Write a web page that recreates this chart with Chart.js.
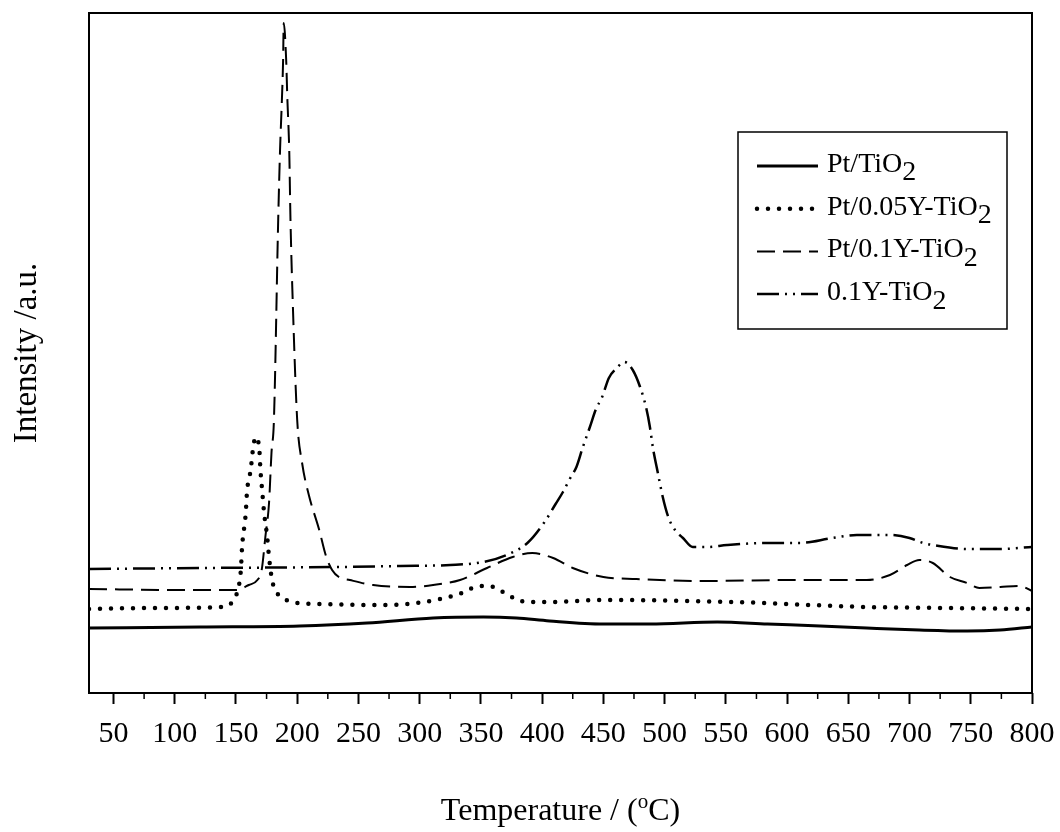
<!DOCTYPE html>
<html>
<head>
<meta charset="utf-8">
<script src="https://cdn.jsdelivr.net/npm/chart.js@4/dist/chart.umd.min.js"></script>
<style>
  html, body { margin: 0; padding: 0; background: #fff; }
  canvas { display: block; }
</style>
</head>
<body>
<canvas id="tpr" width="1060" height="832"></canvas>
<script>
// Series names (the final "2" of each TiO2 is drawn as a subscript)
const seriesLabels = ['Pt/TiO2', 'Pt/0.05Y-TiO2', 'Pt/0.1Y-TiO2', '0.1Y-TiO2'];

// Pt/TiO2
const tempPtTi = [30, 121, 202, 257, 311, 352, 379, 406, 450, 488, 543, 584, 627, 665, 708, 747, 774, 800];
const intPtTi  = [65, 66, 67, 70, 75, 76, 75, 72, 69, 69, 71, 69, 67, 65, 63, 62, 63, 66];

// Pt/0.05Y-TiO2
const tempPt005Y = [30, 80, 139, 147, 151, 154, 155, 158, 159, 162, 164, 166, 169, 170, 171.5, 173, 175.5, 177, 179.5, 183,
                    191, 200, 218, 270, 298, 316.5, 334.5, 343, 351.5, 360.5, 369.5, 378.5, 387.5, 405, 450, 556, 665, 733, 800];
const intPt005Y  = [84, 85, 86, 91, 101, 123, 146, 180, 201, 223, 245, 256, 245, 223, 201, 180, 156, 136, 113, 101,
                    93, 90, 89, 88, 90, 94, 100, 105, 107, 106, 100, 94, 91, 91, 93, 91, 86, 85, 84];

// Pt/0.1Y-TiO2
const tempPt01Y = [30, 104, 150, 160.5, 167.5, 171, 174, 177, 179, 181, 184.5, 186, 187.5, 188.5, 189, 191, 192, 193.5, 194.5, 196.5,
                   200, 204, 209.5, 218, 223.5, 228.5, 234, 243, 262, 292, 311, 333, 355, 376, 392, 409, 425, 450, 477, 529,
                   610, 665, 684, 698, 708, 719, 733, 747, 757, 774, 790, 800];
const intPt01Y  = [104, 103, 103, 108, 113, 123, 156, 190, 240, 273, 474, 543, 593, 633, 670, 633, 593, 543, 474, 386,
                   273, 230, 198, 163, 137, 123, 116, 113, 108, 106, 108, 113, 125, 136, 140, 135, 125, 116, 114, 112,
                   113, 113, 118, 128, 133, 130, 116, 110, 105, 106, 107, 102];

// 0.1Y-TiO2
const temp01Y = [30, 121, 234, 284, 325, 352, 371, 388, 402, 411, 417, 423, 428, 433, 439, 444, 449, 454.5, 461, 467,
                 474, 480, 485, 488, 490.5, 494.5, 498.5, 503, 508.5, 515, 523, 534.5, 551, 583.5, 610, 637, 657, 684, 700, 711,
                 719, 747, 774, 800];
const int01Y  = [124, 125, 126, 127, 128, 131, 138, 150, 171, 189, 201, 215, 226, 245, 266, 284, 296, 315, 325, 331,
                 323, 306, 285, 266, 245, 220, 196, 176, 163, 155, 146, 146, 148, 150, 150, 155, 158, 158, 155, 150,
                 148, 144, 144, 146];

// Axis ticks
const majorTicks = [50, 100, 150, 200, 250, 300, 350, 400, 450, 500, 550, 600, 650, 700, 750, 800];
const minorTicks = [75, 125, 175, 225, 275, 325, 375, 425, 475, 525, 575, 625, 675, 725, 775];

const SERIF = '"Liberation Serif", "Times New Roman", serif';

const toPoints = (xs, ys) => xs.map((t, i) => ({ x: t, y: ys[i] }));

const lineStyles = [
  { borderWidth: 3,   borderDash: [],                   borderCapStyle: 'butt' },
  { borderWidth: 4.5, borderDash: [0, 11],              borderCapStyle: 'round' },
  { borderWidth: 2,   borderDash: [18, 8],              borderCapStyle: 'butt' },
  { borderWidth: 2.5, borderDash: [22, 6, 2, 6, 2, 6],  borderCapStyle: 'butt' }
];

const seriesData = [
  toPoints(tempPtTi, intPtTi),
  toPoints(tempPt005Y, intPt005Y),
  toPoints(tempPt01Y, intPt01Y),
  toPoints(temp01Y, int01Y)
];

// draws "TiO2"-style text with a lowered trailing digit
function drawChemText(ctx, text, x, baseline, size) {
  ctx.font = size + 'px ' + SERIF;
  ctx.textBaseline = 'alphabetic';
  ctx.textAlign = 'left';
  let main = text, sub = '';
  if (/O2$/.test(text)) { main = text.slice(0, -1); sub = '2'; }
  ctx.fillText(main, x, baseline);
  if (sub) {
    const w = ctx.measureText(main).width;
    ctx.fillText(sub, x + w, baseline + size * 0.3);
  }
}

const decorPlugin = {
  id: 'decor',
  beforeDraw(chart) {
    const { ctx } = chart;
    ctx.save();
    ctx.fillStyle = '#fff';
    ctx.fillRect(0, 0, chart.width, chart.height);
    ctx.restore();
  },
  afterDraw(chart) {
    const { ctx, chartArea: a, scales: { x } } = chart;
    ctx.save();
    // plot frame
    ctx.strokeStyle = '#000';
    ctx.lineWidth = 2;
    ctx.strokeRect(a.left, a.top, a.right - a.left, a.bottom - a.top);

    // minor ticks on the temperature axis
    ctx.lineWidth = 1.5;
    ctx.beginPath();
    minorTicks.forEach(v => {
      const px = x.getPixelForValue(v);
      ctx.moveTo(px, a.bottom);
      ctx.lineTo(px, a.bottom + 6);
    });
    ctx.stroke();

    // temperature axis title with superscript o
    const cx = (a.left + a.right) / 2;
    const base = 820;
    const big = 32, small = 21;
    ctx.fillStyle = '#000';
    ctx.textBaseline = 'alphabetic';
    ctx.textAlign = 'left';
    ctx.font = big + 'px ' + SERIF;
    const p1 = 'Temperature / (', p3 = 'C)';
    const w1 = ctx.measureText(p1).width, w3 = ctx.measureText(p3).width;
    ctx.font = small + 'px ' + SERIF;
    const w2 = ctx.measureText('o').width;
    let sx = cx - (w1 + w2 + w3) / 2;
    ctx.font = big + 'px ' + SERIF;
    ctx.fillText(p1, sx, base);
    ctx.font = small + 'px ' + SERIF;
    ctx.fillText('o', sx + w1, base - 12);
    ctx.font = big + 'px ' + SERIF;
    ctx.fillText(p3, sx + w1 + w2, base);

    // legend box
    const bx = a.right - 294, by = a.top + 119, bw = 269, bh = 197;
    ctx.lineWidth = 1.5;
    ctx.strokeRect(bx, by, bw, bh);
    chart.data.datasets.forEach((ds, i) => {
      const baseline = by + 40 + i * 42.7;
      const ly = baseline - 6;
      ctx.save();
      ctx.strokeStyle = '#000';
      ctx.lineWidth = ds.borderWidth;
      ctx.lineCap = ds.borderCapStyle;
      ctx.setLineDash(ds.borderDash);
      ctx.beginPath();
      ctx.moveTo(bx + 19, ly);
      ctx.lineTo(bx + 80, ly);
      ctx.stroke();
      ctx.restore();
      ctx.fillStyle = '#000';
      drawChemText(ctx, ds.label, bx + 89, baseline, 28);
    });
    ctx.restore();
  }
};

new Chart(document.getElementById('tpr'), {
  type: 'line',
  data: {
    datasets: seriesLabels.map((label, i) => ({
      label,
      data: seriesData[i],
      borderColor: '#000',
      backgroundColor: '#000',
      pointRadius: 0,
      fill: false,
      cubicInterpolationMode: 'monotone',
      ...lineStyles[i]
    }))
  },
  options: {
    responsive: false,
    animation: false,
    devicePixelRatio: 1,
    layout: { padding: { top: 13, right: 28, bottom: 0, left: 0 } },
    plugins: {
      legend: { display: false },
      tooltip: { enabled: false }
    },
    scales: {
      x: {
        type: 'linear',
        min: 30,
        max: 800,
        afterBuildTicks: (scale) => { scale.ticks = majorTicks.map(v => ({ value: v })); },
        afterFit: (scale) => {
          scale.height = 139;
          scale.paddingLeft = 0;
          scale.paddingRight = 0;
        },
        border: { display: false },
        grid: {
          display: true,
          drawOnChartArea: false,
          drawTicks: true,
          tickLength: 11,
          tickWidth: 2,
          tickColor: '#000'
        },
        ticks: {
          color: '#000',
          padding: 12,
          maxRotation: 0,
          autoSkip: false,
          font: { family: SERIF, size: 30 }
        }
      },
      y: {
        type: 'linear',
        min: 0,
        max: 680,
        afterFit: (scale) => { scale.width = 89; },
        border: { display: false },
        grid: { display: false },
        ticks: { display: false },
        title: {
          display: true,
          text: 'Intensity /a.u.',
          color: '#000',
          padding: { top: 8, bottom: 0 },
          font: { family: SERIF, size: 33 }
        }
      }
    }
  },
  plugins: [decorPlugin]
});
</script>
</body>
</html>
